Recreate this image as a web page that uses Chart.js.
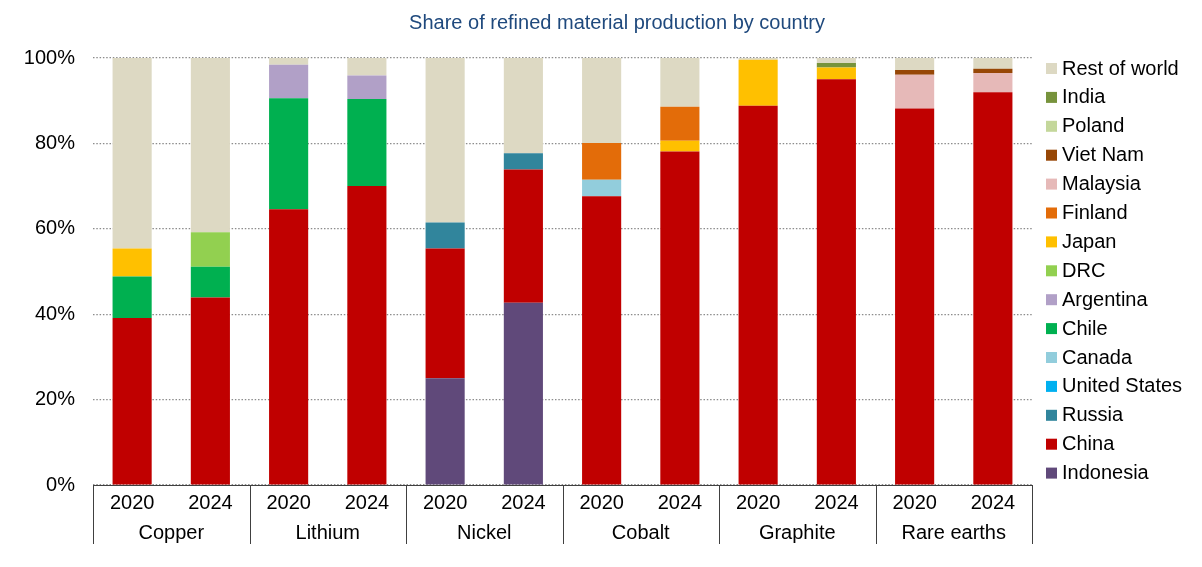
<!DOCTYPE html>
<html>
<head>
<meta charset="utf-8">
<title>Share of refined material production by country</title>
<script src="https://cdn.jsdelivr.net/npm/chart.js@4.4.1/dist/chart.umd.min.js"></script>
<style>
  html, body { margin: 0; padding: 0; background: #fff; }
  #wrap { width: 1202px; height: 567px; position: relative; }
</style>
</head>
<body>
<div id="wrap"><canvas id="chart"></canvas></div>
<script>
// Minerals, each with a 2020 and a 2024 bar
const minerals = ["Copper", "Lithium", "Nickel", "Cobalt", "Graphite", "Rare earths"];
const years = ["2020", "2024"];
const yTicks = [0, 20, 40, 60, 80, 100];

// Shares (%) per bar, order: Cu20, Cu24, Li20, Li24, Ni20, Ni24, Co20, Co24, Gr20, Gr24, RE20, RE24
const indonesia    = [null, null, null, null, 25.0, 42.7, null, null, null, null, null, null];
const china        = [39.1, 43.9, 64.6, 70.0, 30.4, 31.2, 67.6, 78.1, 88.8, 95.0, 88.2, 92.0];
const russia       = [null, null, null, null, 6.1, 3.8, null, null, null, null, null, null];
const unitedStates = [null, null, null, null, null, null, null, null, null, null, null, null];
const canada       = [null, null, null, null, null, null, 3.9, null, null, null, null, null];
const chile        = [9.7, 7.2, 26.0, 20.4, null, null, null, null, null, null, null, null];
const argentina    = [null, null, 7.8, 5.5, null, null, null, null, null, null, null, null];
const drc          = [null, 8.1, null, null, null, null, null, null, null, null, null, null];
const japan        = [6.6, null, null, null, null, null, null, 2.5, 10.8, 2.8, null, null];
const finland      = [null, null, null, null, null, null, 8.6, 8.0, null, null, null, null];
const malaysia     = [null, null, null, null, null, null, null, null, null, null, 7.9, 4.5];
const vietNam      = [null, null, null, null, null, null, null, null, null, null, 1.1, 1.0];
const poland       = [null, null, null, null, null, null, null, null, null, null, null, null];
const india        = [null, null, null, null, null, null, null, null, null, 1.0, null, null];
const restOfWorld  = [44.6, 40.8, 1.6, 4.1, 38.5, 22.3, 19.9, 11.4, 0.4, 1.2, 2.8, 2.5];

const labels = [];
minerals.forEach(() => years.forEach(y => labels.push(y)));

const series = [
  ["Indonesia", indonesia, "#60497A"],
  ["China", china, "#C00000"],
  ["Russia", russia, "#31859C"],
  ["United States", unitedStates, "#00B0F0"],
  ["Canada", canada, "#92CDDC"],
  ["Chile", chile, "#00B050"],
  ["Argentina", argentina, "#B1A0C7"],
  ["DRC", drc, "#92D050"],
  ["Japan", japan, "#FFC000"],
  ["Finland", finland, "#E36C09"],
  ["Malaysia", malaysia, "#E6B9B8"],
  ["Viet Nam", vietNam, "#974706"],
  ["Poland", poland, "#C4D79B"],
  ["India", india, "#77933C"],
  ["Rest of world", restOfWorld, "#DDD9C3"]
];

const FONT = "'Liberation Sans', Arial, sans-serif";
const TITLE = "Share of refined material production by country";

// Title, group names under the years and the box dividers
const groupAxis = {
  id: "groupAxis",
  afterDraw(chart) {
    const { ctx, chartArea, scales } = chart;
    const x = scales.x;
    const per = years.length;
    const slot = (chartArea.right - chartArea.left) / labels.length;
    ctx.save();
    ctx.fillStyle = "#1F497D";
    ctx.font = "20px " + FONT;
    ctx.textAlign = "center";
    ctx.textBaseline = "middle";
    ctx.fillText(TITLE, 617, 23);

    ctx.strokeStyle = "#404040";
    ctx.lineWidth = 1;
    for (let g = 0; g <= minerals.length; g++) {
      const px = Math.round(chartArea.left + g * per * slot) + 0.5;
      ctx.beginPath();
      ctx.moveTo(px, chartArea.bottom);
      ctx.lineTo(px, chartArea.bottom + 59);
      ctx.stroke();
    }
    ctx.fillStyle = "#000";
    minerals.forEach((m, g) => {
      const cx = (x.getPixelForValue(g * per) + x.getPixelForValue(g * per + per - 1)) / 2;
      ctx.fillText(m, cx, chartArea.bottom + 48);
    });
    ctx.restore();
  }
};

// Legend on the right, top item = last stacked series
const sideLegend = {
  id: "sideLegend",
  afterDraw(chart) {
    const { ctx } = chart;
    const items = chart.data.datasets.slice().reverse();
    ctx.save();
    ctx.font = "20px " + FONT;
    ctx.textBaseline = "middle";
    ctx.textAlign = "left";
    items.forEach((ds, i) => {
      const y = 68 + i * 28.9;
      ctx.fillStyle = ds.backgroundColor;
      ctx.fillRect(1046, y - 5, 11, 11);
      ctx.fillStyle = "#000";
      ctx.fillText(ds.label, 1062, y + 1);
    });
    ctx.restore();
  }
};

new Chart(document.getElementById("chart"), {
  type: "bar",
  data: {
    labels: labels,
    datasets: series.map(([name, values, color]) => ({
      label: name,
      data: values,
      backgroundColor: color,
      borderWidth: 0,
      barPercentage: 0.5,
      categoryPercentage: 1.0
    }))
  },
  options: {
    responsive: true,
    maintainAspectRatio: false,
    animation: false,
    layout: { padding: { top: 58, right: 170, bottom: 0, left: 0 } },
    plugins: {
      legend: { display: false },
      tooltip: { enabled: false },
      title: { display: false }
    },
    scales: {
      x: {
        stacked: true,
        grid: { display: false, drawTicks: false, tickLength: 0 },
        border: { display: true, color: "#404040", width: 1 },
        ticks: { color: "#000", font: { family: FONT, size: 20 }, padding: 6, maxRotation: 0 },
        afterFit(scale) { scale.height = 82; }
      },
      y: {
        stacked: true,
        min: 0,
        max: 100,
        afterBuildTicks(scale) { scale.ticks = yTicks.map(v => ({ value: v })); },
        grid: { color: "#8c8c8c", lineWidth: 1.2, drawTicks: false },
        border: { display: false, dash: [1.5, 1.8] },
        ticks: {
          color: "#000",
          font: { family: FONT, size: 20 },
          padding: 18,
          callback: v => v + "%"
        },
        afterFit(scale) { scale.width = 93; }
      }
    }
  },
  plugins: [groupAxis, sideLegend]
});
</script>
</body>
</html>
